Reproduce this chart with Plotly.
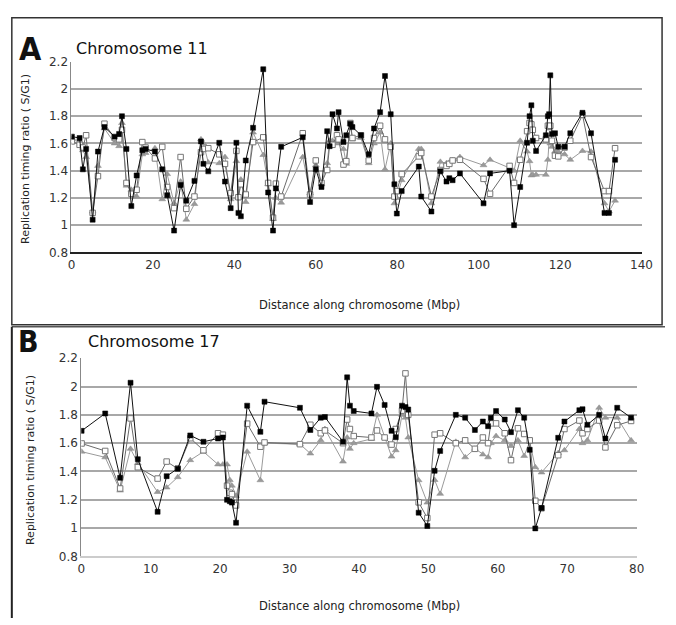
import plotly.graph_objects as go

W, H = 676, 625

# ---------------- Panel A : Chromosome 11 ----------------
chr11_pos = [0.1, 2.0, 2.8, 3.6, 5.2, 6.5, 8.1, 10.6, 11.7, 12.4, 13.5, 14.7, 16.0, 17.4, 18.2,
             20.5, 22.3, 23.5, 25.2, 26.8, 28.2, 30.2, 31.8, 32.4, 33.6, 36.3, 37.7, 39.1, 40.5,
             41.0, 41.6, 42.8, 44.6, 47.1, 48.3, 49.5, 50.2, 51.5, 56.8, 58.6, 60.0, 61.4, 62.8,
             63.4, 64.1, 65.2, 65.6, 66.8, 67.5, 68.5, 69.0, 71.1, 73.0, 74.3, 75.8, 77.0, 78.4,
             79.3, 79.9, 81.1, 85.3, 85.9, 88.4, 90.6, 92.1, 92.8, 93.6, 95.4, 101.2, 102.8,
             107.6, 108.7, 110.2, 111.9, 112.5, 112.95, 113.3, 114.1, 116.5, 117.0, 117.3, 117.6,
             118.0, 118.75, 119.55, 121.1, 122.5, 125.5, 127.6, 130.9, 132.0, 133.5]
chr11_black = [1.65, 1.64, 1.41, 1.56, 1.04, 1.54, 1.72, 1.65, 1.67, 1.80, 1.56, 1.14, 1.365, 1.55, 1.56,
               1.54, 1.41, 1.22, 0.96, 1.295, 1.18, 1.325, 1.615, 1.45, 1.395, 1.605, 1.32, 1.125, 1.605,
               1.09, 1.065, 1.475, 1.715, 2.145, 1.24, 0.96, 1.27, 1.575, 1.645, 1.17, 1.41, 1.28, 1.69,
               1.58, 1.815, 1.71, 1.83, 1.61, 1.66, 1.745, 1.72, 1.66, 1.52, 1.71, 1.83, 2.095, 1.815,
               1.30, 1.085, 1.25, 1.43, 1.21, 1.10, 1.395, 1.32, 1.345, 1.33, 1.38, 1.16, 1.38,
               1.40, 1.00, 1.28, 1.605, 1.80, 1.88, 1.62, 1.545, 1.66, 1.80, 1.815, 2.10,
               1.67, 1.675, 1.575, 1.575, 1.675, 1.825, 1.675, 1.09, 1.09, 1.48]
chr11_open = [1.615, 1.59, 1.57, 1.66, 1.09, 1.36, 1.745, 1.64, 1.63, 1.70, 1.31, 1.23, 1.26, 1.61, 1.57,
              1.49, 1.575, 1.28, 1.125, 1.50, 1.12, 1.21, 1.535, 1.56, 1.565, 1.52, 1.45, 1.235, 1.545,
              1.205, 1.30, 1.225, 1.61, 1.645, 1.31, 1.055, 1.305, 1.21, 1.675, 1.225, 1.475, 1.31, 1.405,
              1.59, 1.59, 1.66, 1.63, 1.445, 1.47, 1.75, 1.64, 1.66, 1.475, 1.64, 1.73, 1.63, 1.575,
              1.21, 1.25, 1.375, 1.505, 1.53, 1.21, 1.405, 1.435, 1.45, 1.475, 1.48, 1.34, 1.23,
              1.435, 1.31, 1.48, 1.69, 1.75, 1.74, 1.70, 1.64, 1.63, 1.73, 1.68, 1.73,
              1.62, 1.51, 1.505, 1.57, 1.62, 1.81, 1.50, 1.25, 1.25, 1.565]
chr11_tri = [1.63, 1.62, 1.55, 1.50, 1.10, 1.435, 1.71, 1.60, 1.58, 1.75, 1.29, 1.26, 1.21, 1.52, 1.53,
             1.565, 1.19, 1.375, 1.16, 1.32, 1.04, 1.155, 1.63, 1.60, 1.46, 1.455, 1.50, 1.19, 1.47,
             1.20, 1.335, 1.17, 1.68, 1.515, 1.30, 1.045, 1.20, 1.165, 1.50, 1.235, 1.44, 1.30, 1.455,
             1.62, 1.62, 1.62, 1.60, 1.56, 1.45, 1.74, 1.63, 1.64, 1.455, 1.60, 1.68, 1.41, 1.60,
             1.16, 1.20, 1.33, 1.56, 1.56, 1.16, 1.465, 1.455, 1.46, 1.475, 1.50, 1.44, 1.48,
             1.42, 1.40, 1.62, 1.54, 1.47, 1.365, 1.37, 1.37, 1.37, 1.48, 1.62, 1.60,
             1.575, 1.54, 1.54, 1.52, 1.48, 1.545, 1.54, 1.16, 1.10, 1.18]

# ---------------- Panel B : Chromosome 17 ----------------
chr17_pos = [0.05, 3.45, 5.6, 7.1, 8.15, 11.0, 12.3, 13.9, 15.7, 17.6, 19.7, 20.4, 21.0, 21.4, 21.7,
             22.3, 23.9, 25.8, 26.4, 31.5, 33.0, 34.5, 35.1, 37.7, 38.3, 38.7, 39.25, 41.8, 42.6,
             43.7, 44.7, 45.3, 46.2, 46.7, 47.1, 48.6, 49.85, 50.9, 51.7, 53.95, 55.3, 56.7, 57.85,
             58.6, 59.0, 59.75, 61.0, 61.9, 62.9, 63.8, 64.6, 65.4, 66.3, 68.7, 69.6, 71.75, 72.2,
             72.9, 74.6, 75.5, 77.2, 79.2]
chr17_black = [1.687, 1.81, 1.355, 2.027, 1.487, 1.115, 1.367, 1.42, 1.655, 1.61, 1.633, 1.64, 1.20, 1.19, 1.18,
               1.038, 1.865, 1.68, 1.893, 1.85, 1.693, 1.78, 1.785, 1.61, 2.065, 1.865, 1.827, 1.81, 1.998,
               1.87, 1.687, 1.642, 1.865, 1.855, 1.838, 1.109, 1.015, 1.405, 1.545, 1.80, 1.78, 1.693, 1.753,
               1.72, 1.78, 1.827, 1.767, 1.678, 1.833, 1.78, 1.553, 0.998, 1.142, 1.638, 1.753, 1.833, 1.84,
               1.73, 1.80, 1.633, 1.85, 1.78]
chr17_open = [1.598, 1.545, 1.28, 1.775, 1.43, 1.35, 1.47, 1.42, 1.635, 1.55, 1.67, 1.66, 1.30, 1.25, 1.24,
              1.16, 1.738, 1.575, 1.605, 1.593, 1.73, 1.67, 1.69, 1.60, 1.767, 1.70, 1.65, 1.64, 1.69,
              1.64, 1.59, 1.70, 1.83, 2.093, 1.80, 1.182, 1.071, 1.66, 1.67, 1.60, 1.62, 1.56, 1.64,
              1.60, 1.74, 1.74, 1.67, 1.48, 1.705, 1.665, 1.62, 1.193, 1.14, 1.515, 1.70, 1.76, 1.67,
              1.70, 1.76, 1.57, 1.727, 1.757]
chr17_tri = [1.54, 1.50, 1.265, 1.56, 1.46, 1.255, 1.287, 1.36, 1.48, 1.54, 1.45, 1.45, 1.45, 1.34, 1.30,
             1.227, 1.54, 1.338, 1.60, 1.593, 1.527, 1.62, 1.70, 1.47, 1.64, 1.56, 1.60, 1.63, 1.80,
             1.64, 1.505, 1.55, 1.80, 1.78, 1.64, 1.338, 1.18, 1.34, 1.242, 1.61, 1.50, 1.56, 1.52,
             1.50, 1.60, 1.65, 1.62, 1.58, 1.62, 1.51, 1.61, 1.43, 1.393, 1.53, 1.55, 1.70, 1.60,
             1.62, 1.85, 1.78, 1.78, 1.62]

y_ticks = [0.8, 1, 1.2, 1.4, 1.6, 1.8, 2, 2.2]
y_ticktext = ["0.8", "1", "1.2", "1.4", "1.6", "1.8", "2", "2.2"]
xA_ticks = [0, 20, 40, 60, 80, 100, 120, 140]
xB_ticks = [0, 10, 20, 30, 40, 50, 60, 70, 80]

FONT = "DejaVu Sans"
LETTER_FONT = "DejaVu Sans Condensed, Liberation Sans Narrow, Roboto, Liberation Sans, sans-serif"


def px(x):
    return x / W


def py(y):
    return 1 - y / H


fig = go.Figure()


def add_series(xs, ys, xa, ya, kind):
    if kind == "tri":
        line = dict(color="#9a9a9a", width=1)
        marker = dict(symbol="triangle-up", size=6, color="#9a9a9a", line=dict(color="#8a8a8a", width=0.5))
    elif kind == "open":
        line = dict(color="#6a6a6a", width=1)
        marker = dict(symbol="square", size=5.5, color="white", line=dict(color="#777777", width=1))
    else:
        line = dict(color="#111111", width=1)
        marker = dict(symbol="square", size=5, color="#000000", line=dict(color="#000000", width=0.5))
    fig.add_trace(go.Scatter(x=xs, y=ys, xaxis=xa, yaxis=ya, mode="lines+markers",
                             line=line, marker=marker, showlegend=False, hoverinfo="x+y"))


add_series(chr11_pos, chr11_tri, "x", "y", "tri")
add_series(chr11_pos, chr11_open, "x", "y", "open")
add_series(chr11_pos, chr11_black, "x", "y", "black")
add_series(chr17_pos, chr17_tri, "x2", "y2", "tri")
add_series(chr17_pos, chr17_open, "x2", "y2", "open")
add_series(chr17_pos, chr17_black, "x2", "y2", "black")

tickfont = dict(family=FONT, size=12, color="#333333")

yaxis_common = dict(range=[0.8, 2.2], tickvals=y_ticks, ticktext=y_ticktext, showgrid=True,
                    gridcolor="#a8a8a8", gridwidth=1.5, zeroline=False, showline=True,
                    linecolor="#888888", linewidth=1, ticks="", tickfont=tickfont, fixedrange=True)

fig.update_layout(
    width=W, height=H,
    margin=dict(l=0, r=0, t=0, b=0),
    paper_bgcolor="white", plot_bgcolor="white",
    xaxis=dict(domain=[px(69), px(652)], range=[0, 140], tickvals=xA_ticks, anchor="y",
               showgrid=False, zeroline=False, showline=True, linecolor="#222222", linewidth=1.5,
               ticks="", tickfont=tickfont),
    yaxis=dict(domain=[py(251), py(56)], anchor="x", **yaxis_common),
    xaxis2=dict(domain=[px(79), px(647)], range=[0, 80], tickvals=xB_ticks, anchor="y2",
                showgrid=False, zeroline=False, showline=True, linecolor="#cccccc", linewidth=2,
                ticks="", tickfont=tickfont),
    yaxis2=dict(domain=[py(562), py(359.3)], anchor="x2", **yaxis_common),
)

# Panel frames
frame = dict(color="#333333", width=1.5)
fig.add_shape(type="rect", xref="paper", yref="paper", x0=px(8), x1=px(673), y0=py(325), y1=py(11),
              line=frame, fillcolor="rgba(0,0,0,0)")
fig.add_shape(type="line", xref="paper", yref="paper", x0=px(8), x1=1, y0=py(327), y1=py(327),
              line=dict(color="#555555", width=1.5))
fig.add_shape(type="line", xref="paper", yref="paper", x0=px(8), x1=px(8), y0=py(327), y1=0,
              line=dict(color="#222222", width=2))

ann = []
# Panel letters
ann.append(dict(text="<b>A</b>", x=px(27), y=py(43), font=dict(family=LETTER_FONT, size=32, color="#111111")))
ann.append(dict(text="<b>B</b>", x=px(25), y=py(342), font=dict(family=LETTER_FONT, size=30, color="#111111")))
# Chart titles
ann.append(dict(text="Chromosome 11", x=px(141), y=py(42), font=dict(family=FONT, size=16, color="#111111")))
ann.append(dict(text="Chromosome 17", x=px(153), y=py(342), font=dict(family=FONT, size=16, color="#111111")))
# Axis titles
ann.append(dict(text="Distance along chromosome (Mbp)", x=px(364), y=py(305), font=dict(family=FONT, size=11.5, color="#222222")))
ann.append(dict(text="Distance along chromosome (Mbp)", x=px(364), y=py(613), font=dict(family=FONT, size=11.5, color="#222222")))
ann.append(dict(text="Replication timing ratio ( S/G1)", x=px(22), y=py(156), textangle=-90,
                font=dict(family=FONT, size=11, color="#222222")))
ann.append(dict(text="Replication timing ratio ( S/G1)", x=px(27), y=py(463), textangle=-90,
                font=dict(family=FONT, size=11, color="#222222")))

for a in ann:
    a.update(xref="paper", yref="paper", showarrow=False, xanchor="center", yanchor="middle")
fig.update_layout(annotations=ann)

fig.write_html("out.html", config={"displayModeBar": False},
               post_script="document.body.style.margin='0px';document.body.style.overflow='hidden';")
